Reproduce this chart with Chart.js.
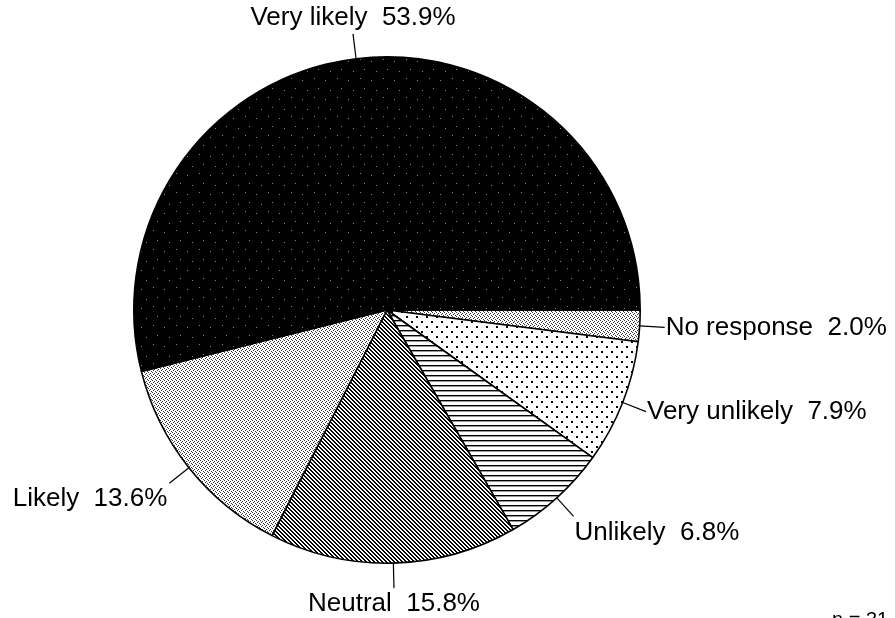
<!DOCTYPE html>
<html>
<head>
<meta charset="utf-8">
<script src="https://cdn.jsdelivr.net/npm/chart.js@4/dist/chart.umd.min.js"></script>
<style>
  html, body { margin: 0; padding: 0; background: #fff; }
  #wrap { width: 895px; height: 618px; }
</style>
</head>
<body>
<div id="wrap"><canvas id="pie" width="895" height="618"></canvas></div>
<script>
// data, clockwise from 3 o'clock
const labels = ['No response', 'Very unlikely', 'Unlikely', 'Neutral', 'Likely', 'Very likely'];
const percents = [2.0, 7.9, 6.8, 15.8, 13.6, 53.9];
const sampleNote = 'n = 31';

// fill patterns, like the old print screens
function makePattern(w, h, draw) {
  const c = document.createElement('canvas');
  c.width = w; c.height = h;
  const g = c.getContext('2d');
  draw(g);
  return g.createPattern(c, 'repeat');
}

const ctxMain = document.getElementById('pie').getContext('2d');

const darkSpeckle = makePattern(23, 19, g => {
  g.fillStyle = '#000'; g.fillRect(0, 0, 23, 19);
  g.fillStyle = '#888';
  [[3, 4], [15, 2], [19, 12], [8, 14]].forEach(([x, y]) => g.fillRect(x, y, 1, 1));
});
const lightStipple = makePattern(4, 4, g => {
  g.fillStyle = '#fff'; g.fillRect(0, 0, 4, 4);
  g.fillStyle = '#333';
  [[0, 0], [2, 1], [1, 2], [3, 3]].forEach(([x, y]) => g.fillRect(x, y, 1, 1));
});
const diagHatch = makePattern(4, 4, g => {
  g.fillStyle = '#fff'; g.fillRect(0, 0, 4, 4);
  g.fillStyle = '#000';
  for (let i = 0; i < 4; i++) { g.fillRect(i, i, 1, 1); g.fillRect((i + 1) % 4, i, 1, 1); }
});
const horizLines = makePattern(6, 5, g => {
  g.fillStyle = '#fff'; g.fillRect(0, 0, 6, 5);
  g.fillStyle = '#000'; g.fillRect(0, 0, 6, 1);
  g.fillStyle = '#999'; g.fillRect(0, 1, 6, 1);
});
const sparseDots = makePattern(10, 10, g => {
  g.fillStyle = '#fff'; g.fillRect(0, 0, 10, 10);
  g.fillStyle = '#000';
  g.fillRect(1, 1, 2, 2); g.fillRect(6, 6, 2, 2);
});

const fills = [lightStipple, sparseDots, horizLines, diagHatch, lightStipple, darkSpeckle];

// leader lines + outside labels
const outsideLabels = {
  id: 'outsideLabels',
  afterDatasetsDraw(chart) {
    const { ctx } = chart;
    const meta = chart.getDatasetMeta(0);
    ctx.save();
    ctx.font = '26px "Liberation Sans", Arial, sans-serif';
    ctx.fillStyle = '#000';
    ctx.strokeStyle = '#000';
    ctx.lineWidth = 1.2;
    meta.data.forEach((arc, i) => {
      const mid = (arc.startAngle + arc.endAngle) / 2;
      const r = arc.outerRadius;
      const cos = Math.cos(mid), sin = Math.sin(mid);
      const x0 = arc.x + cos * r, y0 = arc.y + sin * r;
      const x1 = arc.x + cos * (r + 25), y1 = arc.y + sin * (r + 25);
      ctx.beginPath();
      ctx.moveTo(x0, y0);
      ctx.lineTo(x1, y1);
      ctx.stroke();
      let tx = x1, ty = y1;
      if (cos > 0.25) { ctx.textAlign = 'left'; tx += 1; }
      else if (cos < -0.25) { ctx.textAlign = 'right'; tx -= 2; }
      else ctx.textAlign = 'center';
      if (sin > 0.5) { ctx.textBaseline = 'top'; ty += 3; }
      else if (sin < -0.5) { ctx.textBaseline = 'bottom'; ty -= 3; }
      else ctx.textBaseline = 'middle';
      ctx.fillText(labels[i] + '  ' + percents[i].toFixed(1) + '%', tx, ty);
    });
    ctx.font = '20px "Liberation Sans", Arial, sans-serif';
    ctx.textAlign = 'left';
    ctx.textBaseline = 'top';
    ctx.fillText(sampleNote, 832, 610);
    ctx.restore();
  }
};

new Chart(ctxMain, {
  type: 'pie',
  data: {
    labels: labels,
    datasets: [{
      data: percents,
      backgroundColor: fills,
      borderColor: '#000',
      borderWidth: 1.6
    }]
  },
  options: {
    responsive: false,
    animation: false,
    rotation: 90,
    layout: { padding: { left: 133, right: 254, top: 56, bottom: 54 } },
    plugins: { legend: { display: false }, tooltip: { enabled: false } }
  },
  plugins: [outsideLabels]
});
</script>
</body>
</html>
